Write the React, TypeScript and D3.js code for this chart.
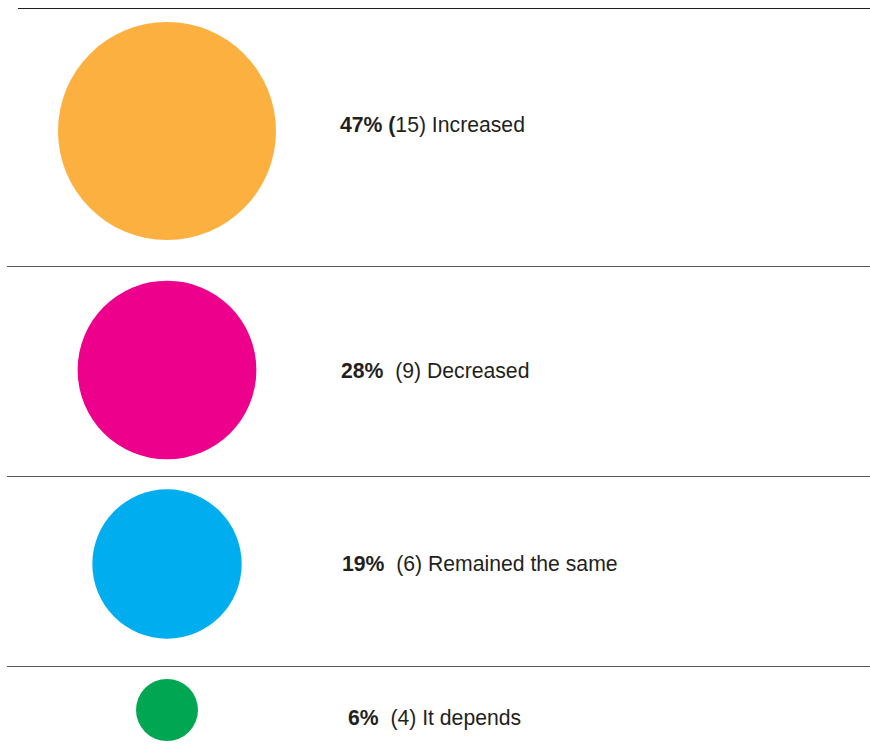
import React from "react";
import * as d3 from "d3";

const categories = ["Increased", "Decreased", "Remained the same", "It depends"];
const percents = [47, 28, 19, 6];
const counts = [15, 9, 6, 4];
const colors = ["#FBB040", "#EC008C", "#00AEEF", "#00A651"];

const W = 870;
const H = 747;
// layout: circle centers and separator lines
const rowCenters = [131, 370, 564, 710];
const textBaselines = [132, 378, 571, 725];
const textX = [340, 341, 342, 348];
const separators = [266, 476, 666];

export default function App() {
  const r = d3.scaleLog().domain([6, 47]).range([31, 109]);
  const cx = 167;
  return (
    <div style={{ position: "fixed", left: 0, top: 0 }}>
      <svg width={W} height={H} style={{ display: "block", background: "#fff" }}>
        <line x1={18} x2={870} y1={8.5} y2={8.5} stroke="#231F20" strokeWidth={1.2} />
        {separators.map((y, i) => (
          <line key={i} x1={7} x2={870} y1={y + 0.5} y2={y + 0.5} stroke="#58595B" strokeWidth={1.2} />
        ))}
        {categories.map((c, i) => (
          <g key={c}>
            <circle cx={cx} cy={rowCenters[i]} r={r(percents[i])} fill={colors[i]} />
            <text
              x={textX[i]}
              y={textBaselines[i]}
              fontFamily="'Liberation Sans', Arial, Helvetica, sans-serif"
              fontSize={21.2}
              fill="#231F20"
              style={{ whiteSpace: "pre" }}
            >
              {i === 0 ? (
                <>
                  <tspan fontWeight="bold">{`${percents[i]}% (`}</tspan>
                  <tspan>{`${counts[i]}) ${c}`}</tspan>
                </>
              ) : (
                <>
                  <tspan fontWeight="bold">{`${percents[i]}%`}</tspan>
                  <tspan>{`  (${counts[i]}) ${c}`}</tspan>
                </>
              )}
            </text>
          </g>
        ))}
      </svg>
    </div>
  );
}
